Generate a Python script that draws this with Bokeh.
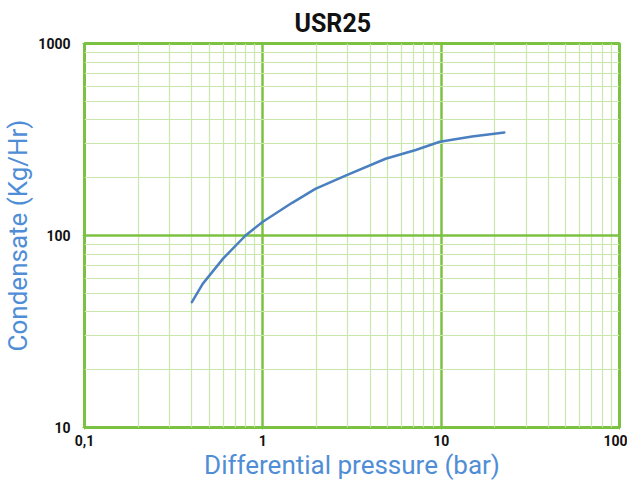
from bokeh.plotting import figure
from bokeh.models import FixedTicker, Title
from bokeh.embed import file_html
from bokeh.resources import INLINE

# Data
pressure_bar = [0.40, 0.46, 0.60, 0.80, 1.0, 1.46, 1.97, 2.91, 4.88, 7.2, 9.83, 14.9, 22.6]
condensate_kg_hr = [45, 56, 76, 100, 118, 148, 175, 205, 251, 279, 308, 328, 344]

x_major = [0.1, 1, 10, 100]
x_labels = ["0,1", "1", "10", "100"]
y_major = [10, 100, 1000]
y_labels = ["10", "100", "1000"]

x_minor = [m * d for d in [0.1, 1, 10] for m in range(2, 10)]
y_minor = [m * d for d in [10, 100] for m in range(2, 10)]

GREEN = "#7cc242"
LIGHT_GREEN = "#c9e6ab"
BLUE = "#4f8ed6"
LINE_BLUE = "#4a7fc0"

p = figure(frame_width=535, frame_height=384, x_axis_type="log", y_axis_type="log",
           x_range=(0.1, 100), y_range=(10, 1000),
           output_backend="svg", toolbar_location=None,
           min_border_left=74, min_border_right=8, min_border_top=39, min_border_bottom=44)

p.add_layout(Title(text="USR25", align="left", offset=210, text_font="Roboto",
                   text_font_size="25px", text_font_style="bold", text_color="#111111",
                   standoff=12), "above")

p.xaxis.ticker = FixedTicker(ticks=x_major, minor_ticks=x_minor)
p.yaxis.ticker = FixedTicker(ticks=y_major, minor_ticks=y_minor)
p.xaxis.major_label_overrides = {v: s for v, s in zip(x_major, x_labels)}
p.yaxis.major_label_overrides = {v: s for v, s in zip(y_major, y_labels)}

for ax in (p.xaxis, p.yaxis):
    ax.axis_line_color = None
    ax.major_tick_line_color = GREEN
    ax.major_tick_out = 2
    ax.major_tick_in = 0
    ax.minor_tick_line_color = None
    ax.major_label_text_font = "Roboto"
    ax.major_label_text_font_style = "bold"
    ax.major_label_text_font_size = "14px"
    ax.major_label_text_color = "#111111"
    ax.axis_label_text_font = "Roboto"
    ax.axis_label_text_font_style = "normal"
    ax.axis_label_text_font_size = "26px"
    ax.axis_label_text_color = BLUE

p.xaxis.axis_label = "Differential pressure (bar)"
p.yaxis.axis_label = "Condensate (Kg/Hr)"
p.xaxis.major_label_standoff = 3
p.yaxis.major_label_standoff = 10
p.xaxis.axis_label_standoff = 1
p.yaxis.axis_label_standoff = 2

for g in (p.xgrid, p.ygrid):
    g.grid_line_color = GREEN
    g.grid_line_width = 2.5
    g.grid_line_alpha = 1.0
    g.minor_grid_line_color = LIGHT_GREEN
    g.minor_grid_line_width = 1.2

p.outline_line_color = GREEN
p.outline_line_width = 3
p.background_fill_color = "white"
p.border_fill_color = "white"

p.line(pressure_bar, condensate_kg_hr, line_color=LINE_BLUE, line_width=2.5,
       line_join="round", line_cap="round")

open("out.html", "w").write(file_html(p, INLINE))
